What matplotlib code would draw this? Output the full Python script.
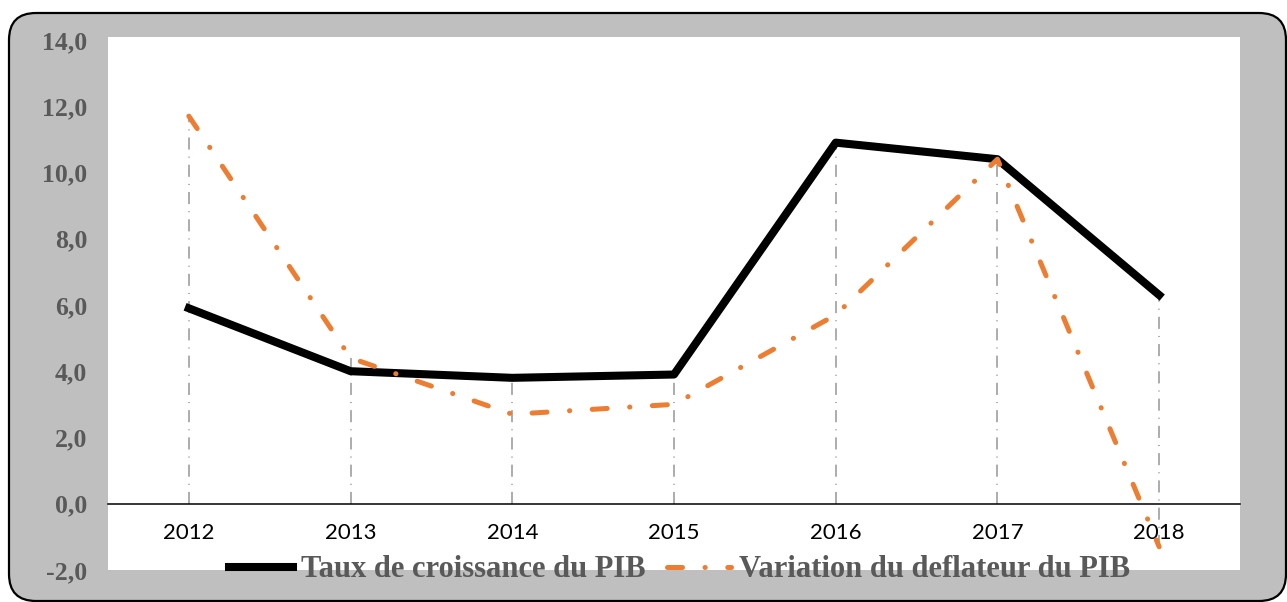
import matplotlib.pyplot as plt
from matplotlib.patches import FancyBboxPatch

# data
years = ["2012", "2013", "2014", "2015", "2016", "2017", "2018"]
croissance_pib = [5.9, 4.0, 3.8, 3.9, 10.9, 10.4, 6.3]
deflateur_pib = [11.7, 4.4, 2.7, 3.0, 5.7, 10.4, -1.3]
y_ticks = [-2, 0, 2, 4, 6, 8, 10, 12, 14]
y_labels = ["-2,0", "0,0", "2,0", "4,0", "6,0", "8,0", "10,0", "12,0", "14,0"]

fig = plt.figure(figsize=(12.87, 6.02), dpi=100)
fig.patch.set_facecolor("white")

# rounded grey frame around the whole chart
frame = FancyBboxPatch((0.09, 0.01), 12.77, 5.88,
                       boxstyle="round,pad=0,rounding_size=0.27",
                       transform=fig.dpi_scale_trans,
                       facecolor="#BFBFBF", edgecolor="black", linewidth=1.6,
                       zorder=-1)
fig.patches.append(frame)

ax = fig.add_axes([0.0839, 0.0532, 0.8796, 0.8854])
ax.set_facecolor("white")
x = list(range(len(years)))

# drop lines from each point to the axis
for i in x:
    lo = min(0, croissance_pib[i], deflateur_pib[i])
    hi = max(croissance_pib[i], deflateur_pib[i])
    ax.plot([i, i], [lo, hi], color="#A6A6A6", linewidth=1.3,
            linestyle=(0, (6.7, 3.9, 0.6, 3.9)), zorder=1)

ax.plot(x, croissance_pib, color="black", linewidth=5.8,
        label="Taux de croissance du PIB", zorder=3)
ax.plot(x, deflateur_pib, color="#ED7D31", linewidth=3.6,
        linestyle=(0, (3.0, 4.5, 0.05, 4.5)), dash_capstyle="round",
        label="Variation du deflateur du PIB", zorder=4)

ax.set_xlim(-0.5, 6.5)
ax.set_ylim(-2, 14.09)
ax.set_yticks(y_ticks)
ax.set_yticklabels(y_labels)
ax.set_xticks(x)
ax.set_xticklabels(years)

for side in ["top", "right", "left"]:
    ax.spines[side].set_visible(False)
ax.spines["bottom"].set_position(("data", 0))
ax.spines["bottom"].set_linewidth(1.1)
ax.spines["bottom"].set_color("black")

ax.tick_params(axis="y", length=0, pad=15, labelcolor="#595959")
ax.tick_params(axis="x", length=0, pad=14)
for lab in ax.get_yticklabels():
    lab.set_fontfamily("Liberation Serif")
    lab.set_fontweight("bold")
    lab.set_fontsize(18.5)
for lab in ax.get_xticklabels():
    lab.set_fontfamily("Lato")
    lab.set_fontsize(16)
    lab.set_color("black")

leg = ax.legend(loc="center", bbox_to_anchor=(0.505, 0.0), ncol=2,
                frameon=False, handlelength=2.1, handletextpad=0.25,
                columnspacing=0.7,
                prop={"family": "Liberation Serif", "weight": "bold", "size": 22})
for t in leg.get_texts():
    t.set_color("#595959")
leg.set_zorder(5)

fig.savefig("out.png", dpi=100)
